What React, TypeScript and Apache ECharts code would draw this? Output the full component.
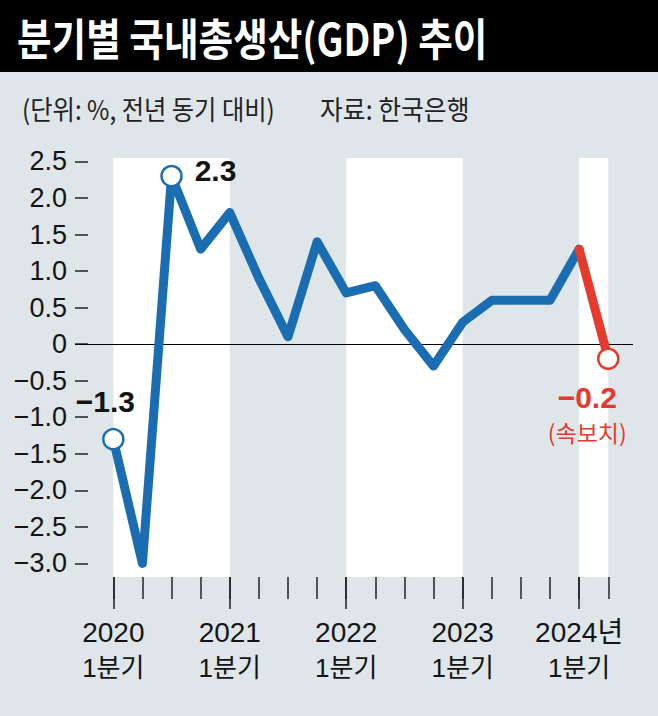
import React, { useEffect, useRef } from 'react';
import * as echarts from 'echarts';

// ---- data ----
const quarters = [
  '2020Q1', '2020Q2', '2020Q3', '2020Q4',
  '2021Q1', '2021Q2', '2021Q3', '2021Q4',
  '2022Q1', '2022Q2', '2022Q3', '2022Q4',
  '2023Q1', '2023Q2', '2023Q3', '2023Q4',
  '2024Q1', '2024Q2',
];
const gdpGrowth = [
  -1.3, -3.0, 2.3, 1.3,
  1.8, 0.9, 0.1, 1.4,
  0.7, 0.8, 0.2, -0.3,
  0.3, 0.6, 0.6, 0.6,
  1.3, -0.2,
];
const yTicks = [-3, -2.5, -2, -1.5, -1, -0.5, 0, 0.5, 1, 1.5, 2, 2.5];
const yearTickIdx = [0, 4, 8, 12, 16];
const yearLabels = ['2020', '2021', '2022', '2023', '2024년'];
const quarterLabel = '1분기';
const shadedRanges = [[0, 4], [8, 12], [16, 17]];
const markedBlue = [0, 2];
const preliminaryIdx = 17;
const preliminaryNote = '(속보치)';
const titleText = '분기별 국내총생산(GDP) 추이';
const unitText = '(단위: %, 전년 동기 대비)';
const sourceText = '자료: 한국은행';

// ---- styles ----
const BLUE = '#1b6db2';
const RED = '#e63a2c';
const BG = '#dee6ea';
const INK = '#141414';
const NUM_FONT = '"Liberation Sans", Arial, sans-serif';
const KR_FONT = '"Noto Sans CJK KR", sans-serif';

const fmt = (v: number) => {
  if (v === 0) return '0';
  const s = Math.abs(v).toFixed(1);
  return v < 0 ? '\u2212' + s : s;
};

export default function App() {
  const ref = useRef<HTMLDivElement>(null);

  useEffect(() => {
    document.body.style.margin = '0';
    if (!ref.current) return;
    const chart = echarts.init(ref.current, undefined, { renderer: 'svg' });

    const lastBlue = gdpGrowth.length - 2;

    const blueData = gdpGrowth.slice(0, lastBlue + 1).map((v, i) => {
      const item: any = { value: [i, v], symbol: 'none' };
      if (markedBlue.includes(i)) {
        item.symbol = 'circle';
        item.symbolSize = 20;
        item.itemStyle = { color: '#fff', borderColor: BLUE, borderWidth: 2.5 };
        item.label = {
          show: true,
          position: 'inside',
          align: 'center',
          verticalAlign: 'middle',
          offset: i === 0 ? [-8, -38] : [44, -6],
          formatter: () => fmt(v),
          fontFamily: NUM_FONT,
          fontWeight: 'bold',
          fontSize: 30,
          color: INK,
        };
      }
      return item;
    });

    const redData = [lastBlue, preliminaryIdx].map((i) => {
      const v = gdpGrowth[i];
      const item: any = { value: [i, v], symbol: 'none' };
      if (i === preliminaryIdx) {
        item.symbol = 'circle';
        item.symbolSize = 20;
        item.itemStyle = { color: '#fff', borderColor: RED, borderWidth: 2.5 };
        item.label = {
          show: true,
          position: 'inside',
          align: 'center',
          verticalAlign: 'middle',
          offset: [-21, 56],
          formatter: () => '{a|' + fmt(v) + '}\n{b|' + preliminaryNote + '}',
          rich: {
            a: { fontFamily: NUM_FONT, fontWeight: 'bold', fontSize: 30, color: RED, lineHeight: 34, align: 'center' },
            b: { fontFamily: KR_FONT, fontSize: 23, color: RED, lineHeight: 34, align: 'center' },
          },
        };
      }
      return item;
    });

    const xMin = -1.316;
    const xMax = 17.85;

    const option: any = {
      animation: false,
      backgroundColor: BG,
      grid: { left: 75, right: 25, top: 158, bottom: 139, containLabel: false },
      xAxis: [
        {
          type: 'value',
          min: xMin,
          max: xMax,
          position: 'bottom',
          axisLine: { show: false, onZero: false },
          splitLine: { show: false },
          axisTick: {
            show: true,
            customValues: quarters.map((_, i) => i),
            length: 22,
            lineStyle: { color: '#222', width: 1.5 },
          },
          axisLabel: {
            show: true,
            customValues: yearTickIdx,
            margin: 38,
            formatter: (val: number) => {
              const k = yearTickIdx.indexOf(Math.round(val));
              return '{y|' + yearLabels[k] + '}\n{q|' + quarterLabel + '}';
            },
            rich: {
              y: { fontFamily: NUM_FONT + ', ' + KR_FONT, fontSize: 28, color: INK, lineHeight: 35 },
              q: { fontFamily: NUM_FONT + ', ' + KR_FONT, fontSize: 26, color: INK, lineHeight: 35 },
            },
          },
        },
        {
          type: 'value',
          min: xMin,
          max: xMax,
          position: 'bottom',
          axisLine: { show: false, onZero: false },
          splitLine: { show: false },
          axisTick: {
            show: true,
            customValues: yearTickIdx,
            length: 32,
            lineStyle: { color: '#222', width: 1.5 },
          },
          axisLabel: { show: false },
        },
      ],
      yAxis: {
        type: 'value',
        min: -3.186,
        max: 2.547,
        axisLine: { show: false, onZero: false },
        splitLine: { show: false },
        axisTick: {
          show: true,
          inside: true,
          length: 13,
          customValues: yTicks,
          lineStyle: { color: '#222', width: 1.5 },
        },
        axisLabel: {
          customValues: yTicks,
          margin: 8,
          formatter: (v: number) => fmt(v),
          fontFamily: NUM_FONT,
          fontSize: 27,
          color: INK,
        },
      },
      graphic: [
        { type: 'rect', shape: { x: 0, y: 0, width: 658, height: 72 }, style: { fill: '#000' }, z: 10 },
        {
          type: 'text', x: 17, y: 37, scaleX: 0.855, z: 11,
          style: { text: titleText, fill: '#fff', fontFamily: KR_FONT, fontWeight: 'bold', fontSize: 44, align: 'left', verticalAlign: 'middle', textAlign: 'left', textVerticalAlign: 'middle' },
        },
        {
          type: 'text', x: 22, y: 108, scaleX: 0.9, z: 11,
          style: { text: unitText, fill: '#222', fontFamily: KR_FONT, fontSize: 27, align: 'left', verticalAlign: 'middle', textAlign: 'left', textVerticalAlign: 'middle' },
        },
        {
          type: 'text', x: 320, y: 108, scaleX: 0.92, z: 11,
          style: { text: sourceText, fill: '#222', fontFamily: KR_FONT, fontSize: 27, align: 'left', verticalAlign: 'middle', textAlign: 'left', textVerticalAlign: 'middle' },
        },
      ],
      series: [
        {
          name: 'GDP',
          type: 'line',
          xAxisIndex: 0,
          data: blueData,
          symbol: 'none',
          showSymbol: true,
          lineStyle: { color: BLUE, width: 9, cap: 'round', join: 'round' },
          itemStyle: { color: BLUE },
          label: { show: false },
          z: 3,
          markArea: {
            silent: true,
            z: 1,
            itemStyle: { color: '#ffffff' },
            data: shadedRanges.map(([a, b]) => [{ xAxis: a }, { xAxis: b }]),
          },
          markLine: {
            silent: true,
            z: 2,
            symbol: 'none',
            label: { show: false },
            lineStyle: { color: '#000', width: 1.2, type: 'solid' },
            data: [{ yAxis: 0 }],
          },
        },
        {
          name: 'GDP 속보치',
          type: 'line',
          xAxisIndex: 0,
          data: redData,
          symbol: 'none',
          showSymbol: true,
          lineStyle: { color: RED, width: 9, cap: 'round', join: 'round' },
          itemStyle: { color: RED },
          label: { show: false },
          z: 4,
        },
      ],
    };

    chart.setOption(option);
    return () => chart.dispose();
  }, []);

  return <div ref={ref} style={{ width: 658, height: 716 }} />;
}
